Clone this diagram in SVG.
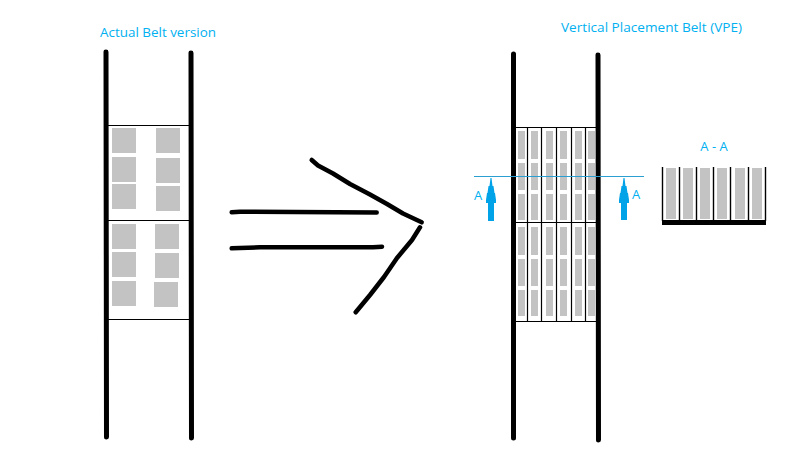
<svg xmlns="http://www.w3.org/2000/svg" width="801" height="470" viewBox="0 0 801 470">
<style>
.rail{stroke:#000;stroke-width:5;stroke-linecap:round;fill:none}
.thin{stroke:#000;stroke-width:1.2;fill:none}
.sec{stroke:#000;stroke-width:1.4;fill:none}
.sk{stroke:#000;stroke-width:4.5;stroke-linecap:round;stroke-linejoin:round;fill:none}
.g{fill:#c3c3c3}
.t{font-family:"Open Sans","Noto Sans",sans-serif;font-size:12px;fill:#00b0f0}
.ar{fill:#00a2e8}
</style>
<rect width="801" height="470" fill="#fff"/>
<g id="title-left"><text class="t" x="100" y="37" textLength="116" lengthAdjust="spacingAndGlyphs">Actual Belt version</text></g>
<g id="title-right"><text class="t" x="561" y="32" textLength="181" lengthAdjust="spacingAndGlyphs">Vertical Placement Belt (VPE)</text></g>
<g id="belt-left">
<path class="thin" d="M108 125.5H189M108 220.5H189M108 319.5H189"/>
<g class="g">
<rect x="112" y="128" width="24" height="25"/><rect x="112" y="157" width="24" height="25"/><rect x="112" y="184" width="24" height="25"/>
<rect x="156" y="128" width="24" height="25"/><rect x="156" y="158" width="24" height="25"/><rect x="156" y="186" width="24" height="25"/>
<rect x="112" y="224" width="24" height="25"/><rect x="112" y="252" width="24" height="25"/><rect x="112" y="281" width="24" height="25"/>
<rect x="155" y="224" width="24" height="25"/><rect x="155" y="253" width="24" height="25"/><rect x="154" y="282" width="24" height="25"/>
</g>
<path class="rail" d="M106 52L106.500 437"/>
<path class="rail" d="M191 53L191.500 438"/>
</g>
<g id="big-arrow">
<path class="sk" d="M231.700 212.300L240 211.700L376.700 212.500"/>
<path class="sk" d="M231.700 248.300L260 247.300L373 247.300L382 246.700"/>
<path class="sk" d="M311.700 160L318 165.500L333 173.500L350 184L370 194.500L387 204L403 213.500L421.700 222.300"/>
<path class="sk" d="M420 227.300L412 240L397 258L384 277L370 295L355.700 312.300"/>
</g>
<g id="belt-right">
<path class="thin" d="M515 127.500H597M515 222.500H597M515 321.500H597"/>
<path class="thin" d="M527.500 127V321M541.500 127V321M556.500 127V321M571.500 127V321M585.500 127V321"/>
<g class="g">
<rect x="518" y="131" width="7" height="28"/><rect x="518" y="163" width="7" height="27"/><rect x="518" y="194" width="7" height="26"/>
<rect x="518" y="227" width="7" height="28"/><rect x="518" y="259" width="7" height="27"/><rect x="518" y="290" width="7" height="26"/>
<rect x="531" y="131" width="7" height="28"/><rect x="531" y="163" width="7" height="27"/><rect x="531" y="194" width="7" height="26"/>
<rect x="531" y="227" width="7" height="28"/><rect x="531" y="259" width="7" height="27"/><rect x="531" y="290" width="7" height="26"/>
<rect x="546" y="131" width="7" height="28"/><rect x="546" y="163" width="7" height="27"/><rect x="546" y="194" width="7" height="26"/>
<rect x="546" y="227" width="7" height="28"/><rect x="546" y="259" width="7" height="27"/><rect x="546" y="290" width="7" height="26"/>
<rect x="560" y="131" width="7" height="28"/><rect x="560" y="163" width="7" height="27"/><rect x="560" y="194" width="7" height="26"/>
<rect x="560" y="227" width="7" height="28"/><rect x="560" y="259" width="7" height="27"/><rect x="560" y="290" width="7" height="26"/>
<rect x="575" y="131" width="7" height="28"/><rect x="575" y="163" width="7" height="27"/><rect x="575" y="194" width="7" height="26"/>
<rect x="575" y="227" width="7" height="28"/><rect x="575" y="259" width="7" height="27"/><rect x="575" y="290" width="7" height="26"/>
<rect x="588" y="131" width="7" height="28"/><rect x="588" y="163" width="7" height="27"/><rect x="588" y="194" width="7" height="26"/>
<rect x="588" y="227" width="7" height="28"/><rect x="588" y="259" width="7" height="27"/><rect x="588" y="290" width="7" height="26"/>
</g>
<path class="rail" d="M513.500 54L513.500 438"/>
<path class="rail" d="M598 55L598.500 440"/>
</g>
<g id="section-line">
<path d="M474 176.500H644" stroke="#2a9fd0" stroke-width="1" fill="none"/>
<path class="ar" d="M490.500 178H491.500L492.500 186H493.500L494.500 193H495L496 200V203H494V221H488V203H486V200L487 193H487.500L488.500 186H489.500Z"/>
<path class="ar" d="M623.500 178H624.500L625.500 186H626.500L627.500 193H628L629 200V203H627V220H621V203H619V200L620 193H620.500L621.500 186H622.500Z"/>
<text class="t" x="474" y="200" style="font-size:13px">A</text>
<text class="t" x="632" y="199" style="font-size:13px">A</text>
</g>
<g id="section-aa">
<text class="t" x="714" y="151" text-anchor="middle" style="font-size:13px">A - A</text>
<g class="g">
<rect x="666" y="168" width="10" height="51"/><rect x="683" y="168" width="10" height="51"/><rect x="700" y="168" width="10" height="51"/>
<rect x="717" y="168" width="10" height="51"/><rect x="735" y="168" width="10" height="51"/><rect x="752" y="168" width="10" height="51"/>
</g>
<path class="sec" d="M662.500 167V221M679.500 167V221M696.500 167V221M713.500 167V221M730.500 167V221M748.500 167V221M765.500 167V221"/>
<rect x="662" y="220" width="104" height="5" fill="#000"/>
</g>
</svg>
